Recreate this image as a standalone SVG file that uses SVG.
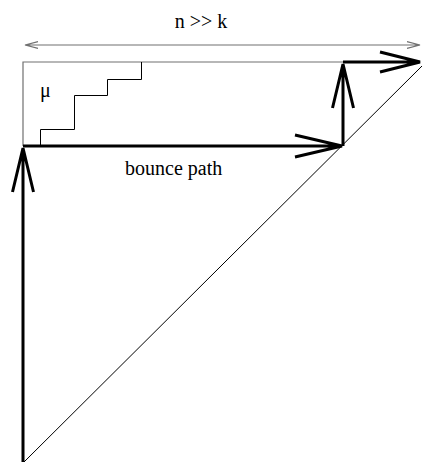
<svg xmlns="http://www.w3.org/2000/svg" width="422" height="463" viewBox="0 0 422 463">
<style>
.thin{fill:none;stroke:#000;stroke-width:1}
.gray{fill:none;stroke:#707070;stroke-width:1.2}
.thick{fill:none;stroke:#000;stroke-width:3;stroke-linejoin:miter}
text{font-family:'Liberation Serif','Times New Roman',serif;font-size:20px;fill:#000}
</style>
<rect width="422" height="463" fill="#fff"/>
<g id="dimension">
<path class="gray" d="M25,45 H420 M38,41.7 L25,45 L38,48.3 M407,41.7 L420,45 L407,48.3"/>
<text x="201" y="28" text-anchor="middle">n &gt;&gt; k</text>
</g>
<g id="region">
<path class="gray" d="M23,146 V62 H343"/>
<path class="thin" d="M40.5,146 V129.5 H74.5 V95.5 H107.5 V79.5 H141.5 V62"/>
<text x="40" y="97">μ</text>
<path class="thin" d="M24,462 L422,66"/>
</g>
<g id="connectors">
<path class="thick" d="M23,462 V148 M12.5,192 L23,148 L33.5,192"/>
<path class="thick" d="M23,146 H342 M295,135 L342,146 L295,157"/>
<path class="thick" d="M343,146 V64 M332.5,108 L343,64 L353.5,108"/>
<path class="thick" d="M343,62 H420 M380,52 L420,62 L380,72"/>
</g>
<text x="125" y="175">bounce path</text>
</svg>
